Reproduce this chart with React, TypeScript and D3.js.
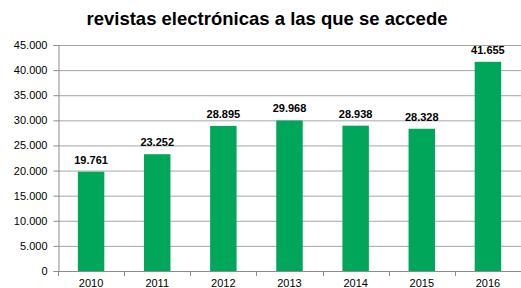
import { useEffect, useRef } from 'react';
import * as d3 from 'd3';

const years = ['2010', '2011', '2012', '2013', '2014', '2015', '2016'];
const values = [19761, 23252, 28895, 29968, 28938, 28328, 41655];
const yTicks = [0, 5000, 10000, 15000, 20000, 25000, 30000, 35000, 40000, 45000];

const W = 521;
const H = 288;
const LEFT = 58;
const RIGHT = 521;
const TOP = 45;
const BOTTOM = 271;
const BAR = '#00A65A';
const FONT = '"Liberation Sans", Arial, sans-serif';

const fmt = (v: number) => d3.format(',')(v).replace(/,/g, '.');

export default function App() {
  const svgRef = useRef<SVGSVGElement>(null);

  useEffect(() => {
    if (!svgRef.current) return;
    const svg = d3.select(svgRef.current);
    svg.selectAll('*').remove();

    const x = d3.scaleBand().domain(years).range([LEFT, RIGHT]).paddingInner(0.6).paddingOuter(0.3);
    const y = d3.scaleLinear().domain([0, 45000]).range([BOTTOM, TOP]);

    // title
    svg.append('text')
      .attr('x', 267).attr('y', 25)
      .attr('text-anchor', 'middle')
      .attr('font-family', FONT).attr('font-size', 18.5).attr('font-weight', 700)
      .attr('fill', '#000')
      .text('revistas electrónicas a las que se accede');

    // grid
    yTicks.forEach(t => {
      if (t === 0) return;
      svg.append('line')
        .attr('x1', LEFT).attr('x2', RIGHT)
        .attr('y1', y(t) + 0.5).attr('y2', y(t) + 0.5)
        .attr('stroke', '#a6a6a6').attr('stroke-width', 1);
    });

    // y axis
    const yAxis = d3.axisLeft(y).tickValues(yTicks).tickSize(5).tickPadding(6).tickFormat(d => fmt(d as number));
    svg.append('g')
      .attr('transform', `translate(${LEFT + 0.5},0)`)
      .call(yAxis)
      .call(g => {
        g.select('.domain').attr('stroke', '#8c8c8c');
        g.selectAll('.tick line').attr('stroke', '#8c8c8c');
        g.selectAll('text').attr('font-family', FONT).attr('font-size', 11).attr('fill', '#000');
      });

    // bars
    years.forEach((yr, i) => {
      svg.append('rect')
        .attr('x', x(yr)!).attr('y', y(values[i]))
        .attr('width', x.bandwidth()).attr('height', BOTTOM - y(values[i]))
        .attr('fill', BAR);
      svg.append('text')
        .attr('x', x(yr)! + x.bandwidth() / 2).attr('y', y(values[i]) - 8)
        .attr('text-anchor', 'middle')
        .attr('font-family', FONT).attr('font-size', 11).attr('font-weight', 700)
        .attr('fill', '#000')
        .text(fmt(values[i]));
    });

    // x axis
    const step = x.step();
    const xAxisG = svg.append('g');
    xAxisG.append('line')
      .attr('x1', LEFT).attr('x2', RIGHT)
      .attr('y1', BOTTOM + 0.5).attr('y2', BOTTOM + 0.5)
      .attr('stroke', '#8c8c8c');
    d3.range(years.length + 1).forEach(i => {
      const px = Math.round(LEFT + i * (RIGHT - LEFT) / years.length) + 0.5;
      xAxisG.append('line')
        .attr('x1', px).attr('x2', px)
        .attr('y1', BOTTOM).attr('y2', BOTTOM + 5)
        .attr('stroke', '#8c8c8c');
    });
    years.forEach(yr => {
      xAxisG.append('text')
        .attr('x', x(yr)! + x.bandwidth() / 2).attr('y', BOTTOM + 16)
        .attr('text-anchor', 'middle')
        .attr('font-family', FONT).attr('font-size', 11)
        .attr('fill', '#000')
        .text(yr);
    });
    void step;
  }, []);

  return (
    <div style={{ position: 'fixed', left: 0, top: 0, width: W, height: H, background: '#fff' }}>
      <svg ref={svgRef} width={W} height={H} style={{ display: 'block' }} />
    </div>
  );
}
